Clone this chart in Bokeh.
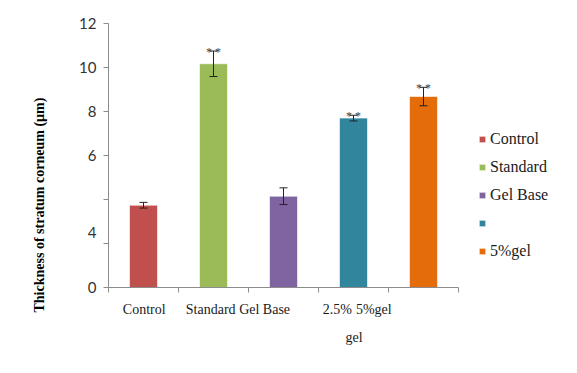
import math
from bokeh.plotting import figure
from bokeh.models import (Range1d, FixedTicker, Whisker, TeeHead, ColumnDataSource,
                          Legend, LegendItem, Title)
from bokeh.embed import file_html
from bokeh.resources import INLINE
from bokeh.core.properties import value

# ---- data ----
categories = ["Control", "Standard", "Gel Base", "2.5% gel", "5%gel"]
thickness = [3.74, 10.17, 4.15, 7.70, 8.68]
errors = [0.13, 0.58, 0.38, 0.13, 0.42]
significance = ["", "**", "", "**", "**"]
colors = ["#C0504D", "#9BBB59", "#8064A2", "#31859C", "#E46C0A"]
legend_labels = ["Control", "Standard", "Gel Base", "", "5%gel"]
ytick_values = [0, 2.5, 6, 8, 10, 12]
ytick_labels = ["0", "4", "6", "8", "10", "12"]
ytick_marks = [0, 2, 4, 6, 8, 10, 12]
y_title = "Thickness of stratum corneum (µm)"

FRAME_W, FRAME_H = 350, 264
Y_MAX = 12

xs = [i + 0.5 for i in range(len(categories))]
upper = [v + e for v, e in zip(thickness, errors)]
lower = [v - e for v, e in zip(thickness, errors)]
sig_text = [" ".join(s) for s in significance]

src = ColumnDataSource(dict(x=xs, top=thickness, upper=upper, lower=lower,
                            color=colors, sig=sig_text, cat=categories))

p = figure(frame_width=FRAME_W, frame_height=FRAME_H,
           x_range=Range1d(0, len(categories)), y_range=Range1d(0, Y_MAX),
           output_backend="svg", toolbar_location=None,
           min_border_left=108, min_border_right=100, min_border_top=23, min_border_bottom=70)
p.grid.visible = False
p.outline_line_color = None
p.background_fill_color = "white"
p.border_fill_color = "white"

axis_color = "#8c8c8c"

# x axis: category names at the reference's label positions, tick marks at boundaries
words = categories[3].split()
xlabel_pos = [0.51, 1.46, 2.23, 3.27, 3.79]
xlabel_txt = [categories[0], categories[1], categories[2], words[0], categories[4]]
xa = p.xaxis[0]
xa.ticker = FixedTicker(ticks=xlabel_pos, minor_ticks=list(range(len(categories) + 1)))
xa.major_label_overrides = {v: t for v, t in zip(xlabel_pos, xlabel_txt)}
xa.major_tick_line_color = None
xa.major_tick_out = 0
xa.major_tick_in = 0
xa.major_label_standoff = 9
xa.minor_tick_line_color = axis_color
xa.minor_tick_out = 5
xa.minor_tick_in = 0
xa.axis_line_color = axis_color
xa.major_label_text_font = "Liberation Serif"
xa.major_label_text_font_size = "14px"
xa.major_label_text_color = "#1a1a1a"

# wrapped remainder of the "2.5% gel" label
p.add_layout(Title(text=words[1], align="left", offset=237, standoff=17,
                   text_font="Liberation Serif", text_font_size="14px",
                   text_font_style="normal", text_color="#1a1a1a"), "below")

# y axis
ya = p.yaxis[0]
ya.ticker = FixedTicker(ticks=ytick_values, minor_ticks=ytick_marks)
ya.major_label_overrides = {v: l for v, l in zip(ytick_values, ytick_labels)}
ya.major_tick_line_color = None
ya.major_tick_out = 5
ya.major_tick_in = 0
ya.minor_tick_line_color = axis_color
ya.minor_tick_out = 5
ya.minor_tick_in = 0
ya.axis_line_color = axis_color
ya.major_label_standoff = 7
ya.major_label_text_font = "Lato"
ya.major_label_text_font_size = "15px"
ya.major_label_text_color = "#333333"

p.add_layout(Title(text=y_title, align="left", offset=-25, standoff=59,
                   text_font="Liberation Serif", text_font_style="bold",
                   text_font_size="14px", text_color="#000000"), "left")

bars = p.vbar(x="x", top="top", bottom=0, width=0.4, fill_color="color",
              line_color="white", line_alpha=0.6, line_width=1, source=src)

wh = Whisker(base="x", upper="upper", lower="lower", source=src, level="overlay",
             line_color="#222222", line_width=1,
             upper_head=TeeHead(size=8, line_color="#222222", line_width=1),
             lower_head=TeeHead(size=8, line_color="#222222", line_width=1))
p.add_layout(wh)

p.text(x="x", y="upper", text="sig", source=src, text_align="center",
       text_baseline="alphabetic", y_offset=1, text_font=value("Liberation Serif"),
       text_font_size="12px", text_color="#404040")

# legend
items = [LegendItem(label=lab, renderers=[bars], index=i) for i, lab in enumerate(legend_labels)]
legend = Legend(items=items, location=(20, 26), orientation="vertical",
                glyph_width=8, glyph_height=8, label_height=20, spacing=8,
                label_standoff=4, padding=0, margin=0, border_line_color=None,
                background_fill_alpha=0,
                label_text_font="Liberation Serif", label_text_font_size="16px",
                label_text_color="#1a1a1a")
p.add_layout(legend, "right")

open("out.html", "w").write(file_html(p, INLINE))
